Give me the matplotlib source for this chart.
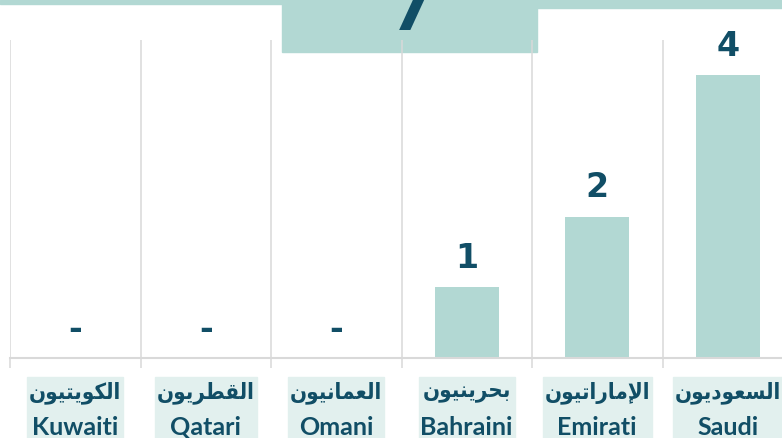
import matplotlib
matplotlib.use('Agg')
import matplotlib.pyplot as plt
from matplotlib.transforms import blended_transform_factory
from matplotlib.patches import Rectangle

# data
cats_en = ['Kuwaiti', 'Qatari', 'Omani', 'Bahraini', 'Emirati', 'Saudi']
cats_ar = ['الكويتيون', 'القطريون', 'العمانيون', 'بحرينيون', 'الإماراتيون', 'السعوديون']
values = [0, 0, 0, 1, 2, 4]

BAR = '#B2D8D3'
DARK = '#114E66'
LABEL_BG = '#E2F0EE'
GRID = '#D9D9D9'

# minimal arabic shaping (matplotlib has no complex text layout)
FORMS = {
    'ا': ('\uFE8D', '\uFE8E'), 'إ': ('\uFE87', '\uFE88'),
    'د': ('\uFEA9', '\uFEAA'), 'ر': ('\uFEAD', '\uFEAE'),
    'و': ('\uFEED', '\uFEEE'),
    'ب': ('\uFE8F', '\uFE90', '\uFE91', '\uFE92'),
    'ت': ('\uFE95', '\uFE96', '\uFE97', '\uFE98'),
    'ح': ('\uFEA1', '\uFEA2', '\uFEA3', '\uFEA4'),
    'س': ('\uFEB1', '\uFEB2', '\uFEB3', '\uFEB4'),
    'ط': ('\uFEC1', '\uFEC2', '\uFEC3', '\uFEC4'),
    'ع': ('\uFEC9', '\uFECA', '\uFECB', '\uFECC'),
    'ق': ('\uFED5', '\uFED6', '\uFED7', '\uFED8'),
    'ك': ('\uFED9', '\uFEDA', '\uFEDB', '\uFEDC'),
    'ل': ('\uFEDD', '\uFEDE', '\uFEDF', '\uFEE0'),
    'م': ('\uFEE1', '\uFEE2', '\uFEE3', '\uFEE4'),
    'ن': ('\uFEE5', '\uFEE6', '\uFEE7', '\uFEE8'),
    'ي': ('\uFEF1', '\uFEF2', '\uFEF3', '\uFEF4'),
}
LAMALEF = {'ا': ('\uFEFB', '\uFEFC'), 'إ': ('\uFEF9', '\uFEFA')}

def shape(word):
    toks = []
    i = 0
    while i < len(word):
        if word[i] == 'ل' and i + 1 < len(word) and word[i+1] in LAMALEF:
            toks.append(LAMALEF[word[i+1]]); i += 2
        else:
            toks.append(FORMS[word[i]]); i += 1
    out = []
    for k, f in enumerate(toks):
        prev = k > 0 and len(toks[k-1]) == 4
        nxt = len(f) == 4 and k + 1 < len(toks)
        if prev and nxt:
            g = f[3]
        elif prev:
            g = f[1]
        elif nxt:
            g = f[2]
        else:
            g = f[0]
        out.append(g)
    return ''.join(reversed(out))

fig = plt.figure(figsize=(7.82, 4.38), dpi=100)
W, H = 782., 438.

# decorative header shapes
fig.patches.append(Rectangle((0, 1 - 4/H), 1, 4/H, transform=fig.transFigure, color=BAR, zorder=-1))
fig.patches.append(Rectangle((537/W, 1 - 8/H), 1, 8/H, transform=fig.transFigure, color=BAR, zorder=-1))
fig.patches.append(Rectangle((282/W, 1 - 52/H), 255/W, 52/H, transform=fig.transFigure, color=BAR, zorder=-1))
fig.text(390/W, 1 - 30/H, '7', fontsize=44, fontweight='bold', color=DARK,
         family='DejaVu Sans', ha='left', va='baseline')

ax = fig.add_axes([10/W, 1 - 358/H, 783/W, 318/H])
ax.patch.set_alpha(0)
x = list(range(len(values)))
ax.bar(x, values, width=0.49, color=BAR, zorder=2)
ax.set_xlim(-0.5, len(values) - 0.5)
ax.set_ylim(0, 4.5)

for s in ['top', 'right', 'left']:
    ax.spines[s].set_visible(False)
ax.spines['bottom'].set_color(GRID)
ax.spines['bottom'].set_linewidth(1.5)
ax.set_yticks([])
ax.set_xticks([])
ax.set_xticks([i - 0.5 for i in range(len(values) + 1)], minor=True)
ax.tick_params(axis='x', which='minor', length=7.5, width=1.1, color=GRID, labelbottom=False)
ax.grid(axis='x', which='minor', color=GRID, linewidth=1.1)

for i, v in enumerate(values):
    ax.annotate(str(v) if v else '-', (i, v), xytext=(0, 29), textcoords='offset pixels',
                ha='center', va='center', fontsize=24, fontweight='bold', color=DARK,
                family='DejaVu Sans')

# category labels: arabic over english on a light box
tr = blended_transform_factory(ax.transData, fig.transFigure)
pairs = []
for i in x:
    ta = ax.text(i, 1 - 393/H, shape(cats_ar[i]), transform=tr, ha='center', va='center',
                 fontsize=16, fontweight='bold', color=DARK, family='DejaVu Sans',
                 fontstretch='condensed', clip_on=False, zorder=5)
    te = ax.text(i, 1 - 435/H, cats_en[i], transform=tr, ha='center', va='baseline',
                 fontsize=18, fontweight='bold', color=DARK, family='Lato',
                 clip_on=False, zorder=5)
    pairs.append((ta, te))

fig.canvas.draw()
r = fig.canvas.get_renderer()
for ta, te in pairs:
    ba = ta.get_window_extent(r)
    be = te.get_window_extent(r)
    x0 = min(ba.x0, be.x0) - 2
    x1 = max(ba.x1, be.x1) + 2
    fig.patches.append(Rectangle((x0/W, 0), (x1 - x0)/W, 61/H, transform=fig.transFigure,
                                 color=LABEL_BG, zorder=-1))

fig.savefig('out.png', dpi=100)
